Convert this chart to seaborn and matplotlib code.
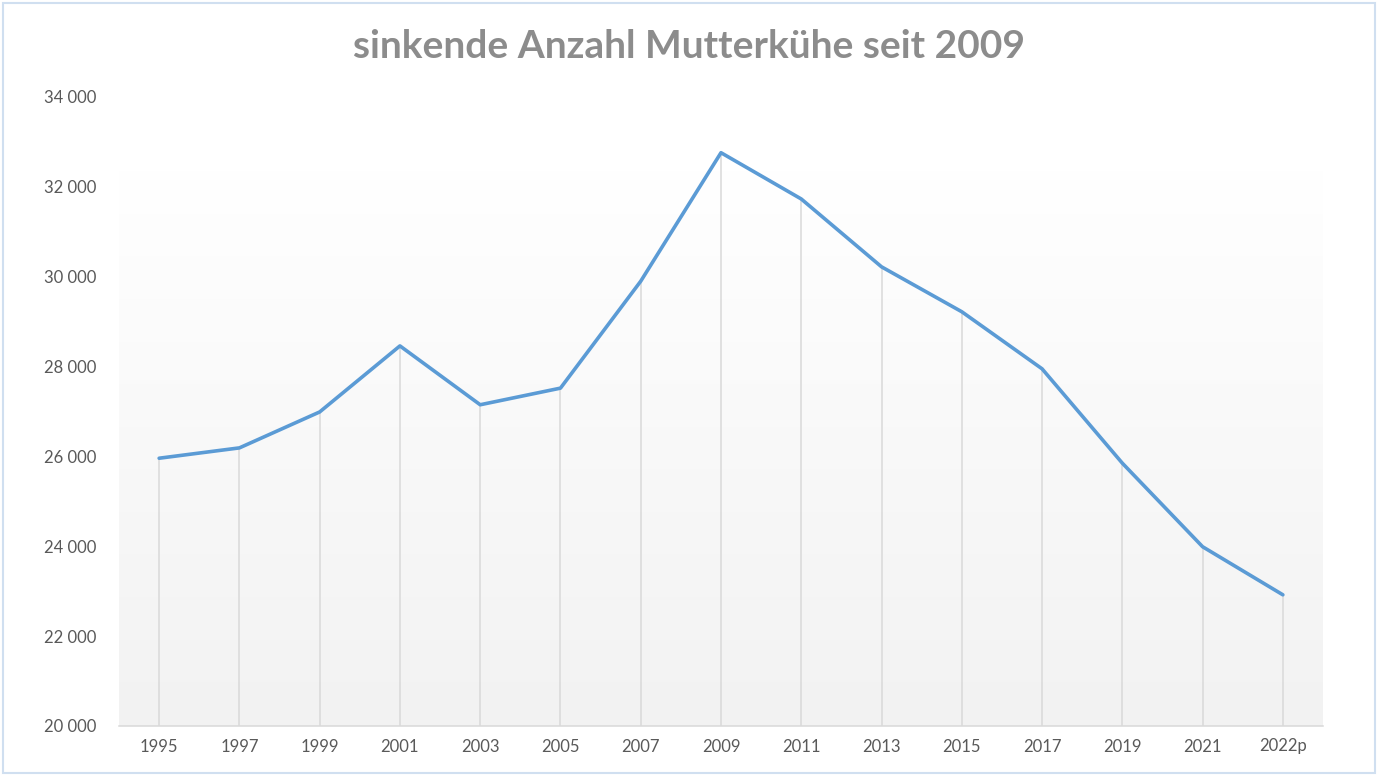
import numpy as np
import pandas as pd
import matplotlib
matplotlib.use("Agg")
import matplotlib.pyplot as plt
from matplotlib.patches import Rectangle
from matplotlib.ticker import FuncFormatter
import seaborn as sns

# data
jahre = ["1995", "1997", "1999", "2001", "2003", "2005", "2007", "2009",
         "2011", "2013", "2015", "2017", "2019", "2021", "2022p"]
mutterkuehe = [25960, 26190, 26990, 28460, 27150, 27520, 29900, 32760,
               31730, 30220, 29220, 27950, 25850, 23990, 22920]
y_ticks = [20000, 22000, 24000, 26000, 28000, 30000, 32000, 34000]
titel = "sinkende Anzahl Mutterkühe seit 2009"

df = pd.DataFrame({"Jahr": jahre, "Anzahl": mutterkuehe})

sns.set_style("white")
plt.rcParams['font.family'] = ['Lato', 'DejaVu Sans']

fig = plt.figure(figsize=(13.78, 7.76), dpi=100)
ax = fig.add_axes([119 / 1378, 50 / 776, (1323 - 119) / 1378, (726 - 97) / 776])

# light gradient in the plot area (white at top -> light grey at bottom)
grad = np.linspace(1.0, 0.0, 256).reshape(-1, 1)
cmap = matplotlib.colors.LinearSegmentedColormap.from_list("bg", ["#f2f2f2", "#ffffff"])
ax.imshow(grad, cmap=cmap, aspect="auto", extent=(0, 1, 0, (726 - 170) / 629),
          transform=ax.transAxes, zorder=0, vmin=0, vmax=1)

# drop lines from the axis to each point
ax.vlines(np.arange(len(jahre)), y_ticks[0], mutterkuehe, color="#d9d9d9", lw=1.1, zorder=1)

sns.lineplot(data=df, x="Jahr", y="Anzahl", sort=False, color="#5b9bd5", lw=2.6, ax=ax, zorder=3)

ax.set_xlim(-0.5, len(jahre) - 0.5)
ax.set_ylim(20000, 34000)
ax.set_yticks(y_ticks)
ax.yaxis.set_major_formatter(FuncFormatter(lambda v, p: f"{int(v):,}".replace(",", " ")))
ax.set_xlabel("")
ax.set_ylabel("")
ax.tick_params(axis="both", length=0, labelsize=12, colors="#595959")
ax.tick_params(axis="y", pad=16)
ax.tick_params(axis="x", pad=9)
for s in ["left", "right", "top"]:
    ax.spines[s].set_visible(False)
ax.spines["bottom"].set_color("#d9d9d9")
ax.spines["bottom"].set_linewidth(1.1)
ax.set_facecolor("none")

fig.text(0.5, 1 - 47 / 776, titel, ha="center", va="center", fontsize=28,
         fontweight="bold", color="#8c8c8c")

# chart border
fig.patches.append(Rectangle((3 / 1378, 3 / 776), 1372 / 1378, 770 / 776, transform=fig.transFigure,
                             fill=False, edgecolor="#d0dff0", lw=1.5))

fig.savefig("out.png", dpi=100)
